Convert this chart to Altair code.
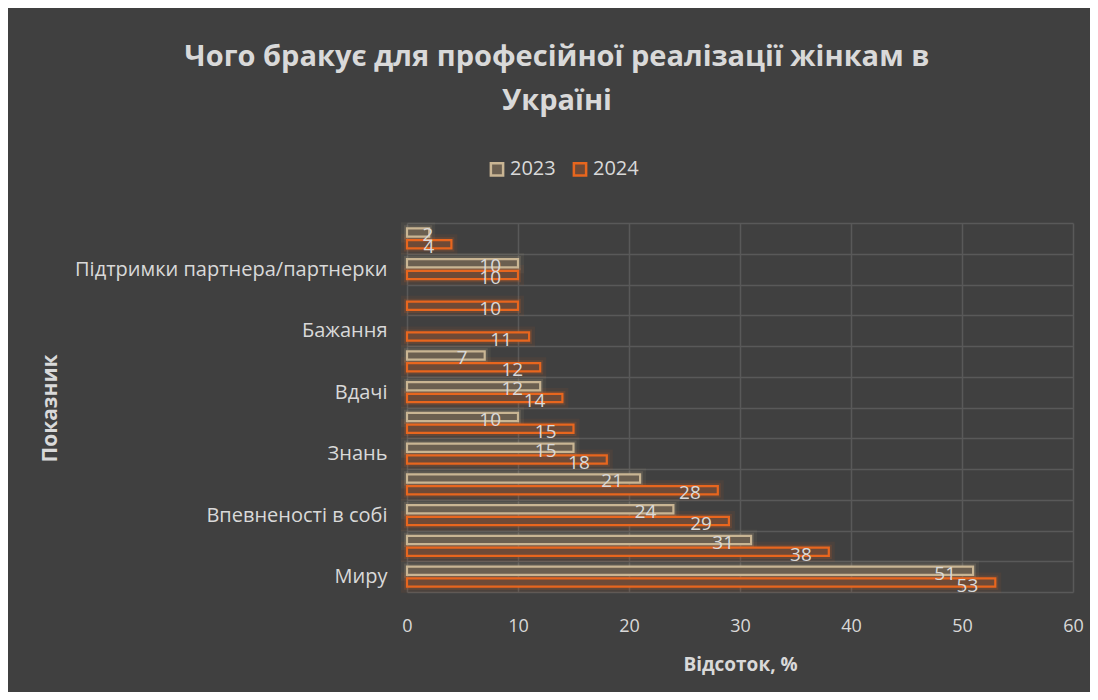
import altair as alt
import pandas as pd

# ---- data ----
categories = [
    "Інше",
    "Підтримки партнера/партнерки",
    "Фінансів",
    "Бажання",
    "Часу",
    "Вдачі",
    "Підтримки держави",
    "Знань",
    "Можливостей",
    "Впевненості в собі",
    "Безпеки",
    "Миру",
]
shown_labels = ["Підтримки партнера/партнерки", "Бажання", "Вдачі", "Знань",
                "Впевненості в собі", "Миру"]
years = ["2023", "2024"]
values_2023 = [2, 10, None, None, 7, 12, 10, 15, 21, 24, 31, 51]
values_2024 = [4, 10, 10, 11, 12, 14, 15, 18, 28, 29, 38, 53]
x_ticks = [0, 10, 20, 30, 40, 50, 60]

rows = []
for c, v23, v24 in zip(categories, values_2023, values_2024):
    if v23 is not None:
        rows.append({"category": c, "year": "2023", "value": v23})
    if v24 is not None:
        rows.append({"category": c, "year": "2024", "value": v24})
df = pd.DataFrame(rows)

BG = "#404040"
GRID = "#595959"
TXT = "#d9d9d9"
FONT = "Open Sans"
stroke_colors = ["#c9b593", "#e8661e"]
fill_colors = ["#6b5f50", "#6e4a37"]

shown_js = "[" + ",".join("'" + s + "'" for s in shown_labels) + "]"

y_enc = alt.Y(
    "category:N",
    sort=categories,
    scale=alt.Scale(paddingInner=0, paddingOuter=0),
    axis=alt.Axis(
        title="Показник",
        titleFont=FONT, titleFontSize=21, titleFontWeight="bold", titleColor=TXT,
        titleX=-357, titleY=185, titleBaseline="middle",
        labelFont=FONT, labelFontSize=20, labelColor=TXT, labelPadding=20,
        labelLimit=500,
        labelExpr="indexof(" + shown_js + ", datum.value) >= 0 ? datum.label : ''",
        grid=True, gridColor=GRID, gridWidth=1.5, tickBand="extent",
        domain=False, ticks=False,
    ),
)
yoff_enc = alt.YOffset(
    "year:N", sort=years,
    scale=alt.Scale(domain=years, paddingInner=0.3, paddingOuter=0.45),
)
x_axis = alt.Axis(
    title="Відсоток, %", values=x_ticks,
    titleFont=FONT, titleFontSize=19, titleFontWeight="bold", titleColor=TXT,
    titlePadding=20,
    labelFont=FONT, labelFontSize=18, labelColor=TXT, labelPadding=25,
    labelFlush=False,
    grid=True, gridColor=GRID, gridWidth=1.5, domain=False, ticks=False,
)
x_scale = alt.Scale(domain=[0, 60], nice=False)

stroke_enc = alt.Stroke(
    "year:N",
    scale=alt.Scale(domain=years, range=stroke_colors),
    legend=alt.Legend(
        orient="none", legendX=80, legendY=-64, direction="horizontal",
        title=None, symbolType="square", symbolSize=150, symbolStrokeWidth=2.5,
        symbolFillColor=BG, labelFont=FONT, labelFontSize=20, labelColor=TXT,
        columnPadding=12, labelOffset=3,
    ),
)

base = alt.Chart(df).encode(y=y_enc, yOffset=yoff_enc)

glow_wide = base.mark_bar(fillOpacity=0, strokeWidth=12, strokeOpacity=0.07).encode(
    x=alt.X("value:Q", scale=x_scale, axis=x_axis), stroke=stroke_enc
)
glow = base.mark_bar(fillOpacity=0, strokeWidth=6, strokeOpacity=0.16).encode(
    x=alt.X("value:Q", scale=x_scale, axis=x_axis), stroke=stroke_enc
)
bars = base.mark_bar(strokeWidth=2.2).encode(
    x=alt.X("value:Q", scale=x_scale, axis=x_axis),
    stroke=stroke_enc,
    fill=alt.Fill("year:N", scale=alt.Scale(domain=years, range=fill_colors), legend=None),
)
labels = base.transform_calculate(
    labelPos="max(datum.value, 3.9)"
).mark_text(
    align="right", baseline="middle", dx=-17, dy=3,
    font=FONT, fontSize=19, color=TXT,
).encode(
    x=alt.X("labelPos:Q", scale=x_scale, axis=x_axis),
    text=alt.Text("value:Q"),
)

chart = alt.layer(glow_wide, glow, bars, labels).properties(
    width=666,
    height=369,
    padding={"left": 399, "top": 215, "right": 17, "bottom": 100},
    autosize=alt.AutoSizeParams(type="none"),
    title=alt.Title(
        text=["Чого бракує для професійної реалізації жінкам в", "Україні"],
        font=FONT, fontSize=29, fontWeight="bold", color=TXT,
        anchor="middle", frame="group", dx=-183, offset=43, lineHeight=44,
    ),
).configure(background=BG).configure_view(stroke=None)

chart.save("out.html", embed_options={"renderer": "svg", "actions": False})
